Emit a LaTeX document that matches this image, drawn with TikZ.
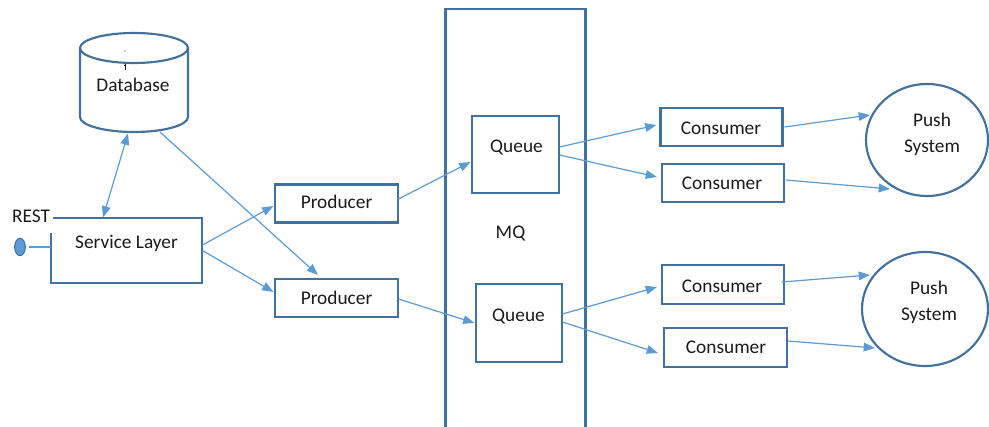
\documentclass[tikz,border=0pt]{standalone}
\usepackage{fontspec}
\setmainfont{Carlito}
\usetikzlibrary{arrows.meta,calc,shapes.geometric}
\definecolor{edgeblue}{HTML}{41719C}
\definecolor{linkblue}{HTML}{5B9BD5}
\definecolor{ink}{HTML}{1A1A1A}
\begin{document}
\begin{tikzpicture}[x=0.75pt,y=-0.75pt,
  every node/.style={inner sep=0pt, outer sep=0pt},
  box/.style={draw=edgeblue, line width=1.6pt, rectangle},
  hold/.style={rectangle},
  outline/.style={draw=edgeblue, line width=1.6pt},
  bubble/.style={draw=edgeblue, line width=1.6pt, ellipse},
  lbl/.style={text=ink, font=\fontsize{14.5}{19.5}\selectfont, anchor=base},
  link/.style={draw=linkblue, line width=0.9pt},
  arr/.style={link, -{Triangle[length=8.5pt,width=6.5pt]}},
  darr/.style={link, {Triangle[length=8.5pt,width=6.5pt]}-{Triangle[length=8.5pt,width=6.5pt]}}
]
\useasboundingbox (0,0) rectangle (989,427);

% database cylinder
\node[hold, minimum width=81pt, minimum height=74.25pt] (db) at (134,82.5) {};
\draw[outline] ($(db.north west)+(0,15)$) -- ($(db.south west)+(0,-15)$)
  arc[start angle=180, end angle=360, x radius=40.5pt, y radius=11.25pt]
  -- ($(db.north east)+(0,15)$);
\draw[outline] ($(db.north)+(0,15)$) ellipse[x radius=40.5pt, y radius=11.25pt];
\fill[ink] (125,51) circle[radius=0.5pt];
\draw[ink, line width=0.5pt] (125,64) -- (125,70) (124,65) -- (126,65);
\node[lbl] at (133,92) {Database};

% service layer with its REST port
\node[hold, minimum width=113.25pt, minimum height=48.75pt] (sl) at (126.5,250.5) {};
\draw[outline] ($(sl.north west)+(1.5,0)$) -- (sl.north east) -- (sl.south east)
  -- (sl.south west) -- ($(sl.north west)+(0,15)$);
\node[lbl] at (126.5,249) {Service Layer};
\node[lbl] at (31,223) {REST};
\node[ellipse, draw=edgeblue, fill=linkblue, line width=0.8pt,
      minimum width=8pt, minimum height=13pt] (port) at (20,247) {};
\draw[link] ($(port.east)+(4,0)$) -- (port.east -| sl.west);

% producers
\node[box, minimum width=92.25pt, minimum height=28.5pt] (p1) at (336.5,203.5) {};
\node[lbl] at (336.5,209) {Producer};
\node[box, minimum width=92.25pt, minimum height=28.5pt] (p2) at (336.5,298) {};
\node[lbl] at (336.5,305) {Producer};

% message queue
\node[box, minimum width=105pt, minimum height=323.25pt] (mq) at (515.5,224.5) {};
\node[lbl] at (510.5,239) {MQ};
\node[box, minimum width=65.25pt, minimum height=57.75pt] (q1) at (515.5,154.5) {};
\node[lbl] at (516.5,153) {Queue};
\node[box, minimum width=64.5pt, minimum height=58.5pt] (q2) at (519,323) {};
\node[lbl] at (518.5,322) {Queue};

% consumers
\node[box, minimum width=91.5pt, minimum height=28.5pt] (c1) at (721.5,127) {};
\node[lbl] at (721,135) {Consumer};
\node[box, minimum width=91.5pt, minimum height=28.5pt] (c2) at (723,183) {};
\node[lbl] at (722,190) {Consumer};
\node[box, minimum width=91.5pt, minimum height=29.25pt] (c3) at (723,284.5) {};
\node[lbl] at (722,293) {Consumer};
\node[box, minimum width=92.25pt, minimum height=29.25pt] (c4) at (725.5,347.5) {};
\node[lbl] at (726,354) {Consumer};

% push systems
\node[bubble, minimum width=91.5pt, minimum height=84pt] (ps1) at (927,140) {};
\node[text=ink, font=\fontsize{14.5}{19.5}\selectfont, align=center] at (932,134.5) {Push\\System};
\node[bubble, minimum width=94.5pt, minimum height=85.5pt] (ps2) at (925,309) {};
\node[text=ink, font=\fontsize{14.5}{19.5}\selectfont, align=center] at (929,302) {Push\\System};

% connectors
\draw[darr] ($(db.south)+(-6,1.5)$) -- ($(sl.north)+(-23.5,-0.5)$);
\draw[arr] ($(db.south)+(26,0)$) -- ($(p2.north)+(-18.5,-4)$);
\draw[arr] ($(sl.east)+(0.5,-5.5)$) -- ($(p1.west)+(-1.5,2.5)$);
\draw[arr] ($(sl.east)+(0.5,0)$) -- ($(p2.west)+(-1.5,-6)$);
\draw[arr] ($(p1.east)+(0.5,-4.5)$) -- ($(q1.west)+(-1.5,7.5)$);
\draw[arr] ($(p2.east)+(0.5,1)$) -- ($(q2.west)+(-1.5,0)$);
\draw[arr] ($(q1.east)+(0.5,-7.5)$) -- ($(c1.west)+(-4,-2)$);
\draw[arr] ($(q1.east)+(0.5,0.5)$) -- ($(c2.west)+(-5,-6)$);
\draw[arr] ($(q2.east)+(0.5,-9)$) -- ($(c3.west)+(-5,2.5)$);
\draw[arr] ($(q2.east)+(0.5,-1)$) -- ($(c4.west)+(-6,5.5)$);
\draw[arr] ($(c1.east)+(2,0)$) -- ($(ps1.center)+(-57,-25)$);
\draw[arr] ($(c2.east)+(2,-3)$) -- ($(ps1.center)+(-37,49)$);
\draw[arr] ($(c3.east)+(-2,-2.5)$) -- ($(ps2.center)+(-55,-34)$);
\draw[arr] ($(c4.east)+(1,-6.5)$) -- ($(ps2.center)+(-50,39)$);
\end{tikzpicture}
\end{document}
